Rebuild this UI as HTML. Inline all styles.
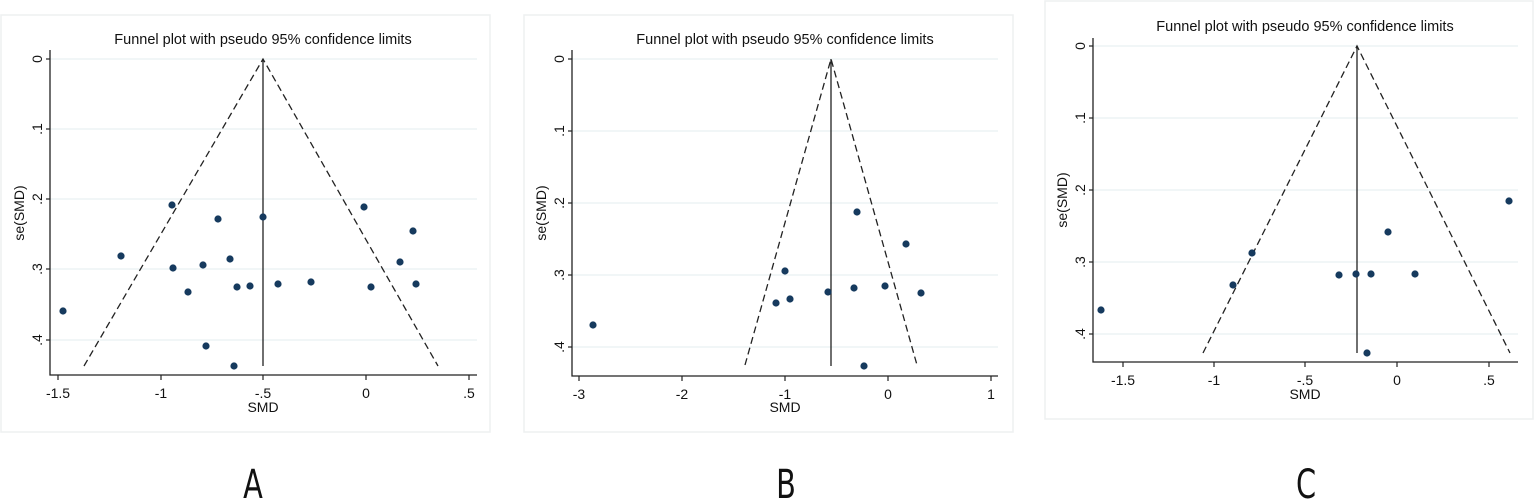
<!DOCTYPE html>
<html><head><meta charset="utf-8"><style>
html,body{margin:0;padding:0;background:#fff;width:1535px;height:500px;overflow:hidden}
svg{display:block}
text{font-family:"Liberation Sans",sans-serif;fill:#111}
.g{stroke:#e3ecef;stroke-width:1}
.ax{stroke:#222;stroke-width:1.3;fill:none}
.d{stroke:#222;stroke-width:1.3;stroke-dasharray:7,4;fill:none}
.p{fill:#163a5e}
.t{font-size:14.5px}
.k{font-size:14px}
.L{font-size:40px;font-family:"DejaVu Sans Condensed","Liberation Sans",sans-serif}
</style></head><body>
<svg width="1535" height="500" viewBox="0 0 1535 500">
<rect x="1" y="15" width="489" height="417" fill="none" stroke="#eef0f1" stroke-width="1.5"/>
<rect x="524" y="15" width="489" height="417" fill="none" stroke="#eef0f1" stroke-width="1.5"/>
<rect x="1045" y="1" width="488" height="418" fill="none" stroke="#eef0f1" stroke-width="1.5"/>

<g>
<text class="t" x="263" y="44" text-anchor="middle">Funnel plot with pseudo 95% confidence limits</text>
<line class="g" x1="50" x2="477" y1="59" y2="59"/><line class="g" x1="50" x2="477" y1="129" y2="129"/>
<line class="g" x1="50" x2="477" y1="199" y2="199"/><line class="g" x1="50" x2="477" y1="269" y2="269"/>
<line class="g" x1="50" x2="477" y1="340" y2="340"/>
<polyline class="ax" points="50,50 50,375 477,375"/>
<g stroke="#222" stroke-width="1.2">
<line x1="46" x2="50" y1="59" y2="59"/><line x1="46" x2="50" y1="129" y2="129"/><line x1="46" x2="50" y1="199" y2="199"/><line x1="46" x2="50" y1="269" y2="269"/><line x1="46" x2="50" y1="340" y2="340"/>
<line x1="58" x2="58" y1="375" y2="380"/><line x1="161" x2="161" y1="375" y2="380"/><line x1="263" x2="263" y1="375" y2="380"/><line x1="366" x2="366" y1="375" y2="380"/><line x1="469" x2="469" y1="375" y2="380"/>
</g>
<g class="k" text-anchor="middle">
<text transform="translate(42,59) rotate(-90)">0</text><text transform="translate(42,129) rotate(-90)">.1</text><text transform="translate(42,199) rotate(-90)">.2</text><text transform="translate(42,269) rotate(-90)">.3</text><text transform="translate(42,340) rotate(-90)">.4</text>
<text transform="translate(24,213) rotate(-90)">se(SMD)</text>
<text x="58" y="398">-1.5</text><text x="161" y="398">-1</text><text x="263" y="398">-.5</text><text x="366" y="398">0</text><text x="469" y="398">.5</text>
<text x="263" y="412">SMD</text>
</g>
<polyline class="d" points="84,366 263,59 438,366"/>
<line class="ax" x1="263" y1="59" x2="263" y2="366"/>
<g class="p">
<circle cx="63" cy="311" r="3.6"/><circle cx="121" cy="256" r="3.6"/><circle cx="172" cy="205" r="3.6"/><circle cx="173" cy="268" r="3.6"/><circle cx="188" cy="292" r="3.6"/><circle cx="203" cy="265" r="3.6"/><circle cx="206" cy="346" r="3.6"/><circle cx="218" cy="219" r="3.6"/><circle cx="230" cy="259" r="3.6"/><circle cx="234" cy="366" r="3.6"/><circle cx="237" cy="287" r="3.6"/><circle cx="250" cy="286" r="3.6"/><circle cx="263" cy="217" r="3.6"/><circle cx="278" cy="284" r="3.6"/><circle cx="311" cy="282" r="3.6"/><circle cx="364" cy="207" r="3.6"/><circle cx="371" cy="287" r="3.6"/><circle cx="400" cy="262" r="3.6"/><circle cx="413" cy="231" r="3.6"/><circle cx="416" cy="284" r="3.6"/>
</g>
</g>

<g>
<text class="t" x="785" y="44" text-anchor="middle">Funnel plot with pseudo 95% confidence limits</text>
<line class="g" x1="572" x2="998" y1="59" y2="59"/><line class="g" x1="572" x2="998" y1="131" y2="131"/>
<line class="g" x1="572" x2="998" y1="203" y2="203"/><line class="g" x1="572" x2="998" y1="275" y2="275"/>
<line class="g" x1="572" x2="998" y1="347" y2="347"/>
<polyline class="ax" points="572,50 572,376 998,376"/>
<g stroke="#222" stroke-width="1.2">
<line x1="568" x2="572" y1="59" y2="59"/><line x1="568" x2="572" y1="131" y2="131"/><line x1="568" x2="572" y1="203" y2="203"/><line x1="568" x2="572" y1="275" y2="275"/><line x1="568" x2="572" y1="347" y2="347"/>
<line x1="579" x2="579" y1="376" y2="381"/><line x1="682" x2="682" y1="376" y2="381"/><line x1="785" x2="785" y1="376" y2="381"/><line x1="888" x2="888" y1="376" y2="381"/><line x1="991" x2="991" y1="376" y2="381"/>
</g>
<g class="k" text-anchor="middle">
<text transform="translate(564,59) rotate(-90)">0</text><text transform="translate(564,131) rotate(-90)">.1</text><text transform="translate(564,203) rotate(-90)">.2</text><text transform="translate(564,275) rotate(-90)">.3</text><text transform="translate(564,347) rotate(-90)">.4</text>
<text transform="translate(546,213) rotate(-90)">se(SMD)</text>
<text x="579" y="399">-3</text><text x="682" y="399">-2</text><text x="785" y="399">-1</text><text x="888" y="399">0</text><text x="991" y="399">1</text>
<text x="785" y="412">SMD</text>
</g>
<polyline class="d" points="745,365 831,59 917,365"/>
<line class="ax" x1="831" y1="59" x2="831" y2="366"/>
<g class="p">
<circle cx="593" cy="325" r="3.6"/><circle cx="776" cy="303" r="3.6"/><circle cx="785" cy="271" r="3.6"/><circle cx="790" cy="299" r="3.6"/><circle cx="828" cy="292" r="3.6"/><circle cx="854" cy="288" r="3.6"/><circle cx="857" cy="212" r="3.6"/><circle cx="885" cy="286" r="3.6"/><circle cx="864" cy="366" r="3.6"/><circle cx="906" cy="244" r="3.6"/><circle cx="921" cy="293" r="3.6"/>
</g>
</g>

<g>
<text class="t" x="1305" y="31" text-anchor="middle">Funnel plot with pseudo 95% confidence limits</text>
<line class="g" x1="1093" x2="1518" y1="46" y2="46"/><line class="g" x1="1093" x2="1518" y1="118" y2="118"/>
<line class="g" x1="1093" x2="1518" y1="190" y2="190"/><line class="g" x1="1093" x2="1518" y1="262" y2="262"/>
<line class="g" x1="1093" x2="1518" y1="334" y2="334"/>
<polyline class="ax" points="1093,38 1093,362 1518,362"/>
<g stroke="#222" stroke-width="1.2">
<line x1="1089" x2="1093" y1="46" y2="46"/><line x1="1089" x2="1093" y1="118" y2="118"/><line x1="1089" x2="1093" y1="190" y2="190"/><line x1="1089" x2="1093" y1="262" y2="262"/><line x1="1089" x2="1093" y1="334" y2="334"/>
<line x1="1123" x2="1123" y1="362" y2="367"/><line x1="1214" x2="1214" y1="362" y2="367"/><line x1="1305" x2="1305" y1="362" y2="367"/><line x1="1397" x2="1397" y1="362" y2="367"/><line x1="1489" x2="1489" y1="362" y2="367"/>
</g>
<g class="k" text-anchor="middle">
<text transform="translate(1085,46) rotate(-90)">0</text><text transform="translate(1085,118) rotate(-90)">.1</text><text transform="translate(1085,190) rotate(-90)">.2</text><text transform="translate(1085,262) rotate(-90)">.3</text><text transform="translate(1085,334) rotate(-90)">.4</text>
<text transform="translate(1067,200) rotate(-90)">se(SMD)</text>
<text x="1123" y="385">-1.5</text><text x="1214" y="385">-1</text><text x="1305" y="385">-.5</text><text x="1397" y="385">0</text><text x="1489" y="385">.5</text>
<text x="1305" y="399">SMD</text>
</g>
<polyline class="d" points="1203,353 1357,46 1510,353"/>
<line class="ax" x1="1357" y1="46" x2="1357" y2="353"/>
<g class="p">
<circle cx="1101" cy="310" r="3.6"/><circle cx="1233" cy="285" r="3.6"/><circle cx="1252" cy="253" r="3.6"/><circle cx="1339" cy="275" r="3.6"/><circle cx="1356" cy="274" r="3.6"/><circle cx="1371" cy="274" r="3.6"/><circle cx="1415" cy="274" r="3.6"/><circle cx="1388" cy="232" r="3.6"/><circle cx="1509" cy="201" r="3.6"/><circle cx="1367" cy="353" r="3.6"/>
</g>
</g>

<text class="L" x="253" y="498" text-anchor="middle" transform="translate(253,0) scale(0.8,1) translate(-253,0)">A</text>
<text class="L" x="786" y="498" text-anchor="middle" transform="translate(786,0) scale(0.8,1) translate(-786,0)">B</text>
<text class="L" x="1306" y="498" text-anchor="middle" transform="translate(1306,0) scale(0.8,1) translate(-1306,0)">C</text>
</svg>
</body></html>
